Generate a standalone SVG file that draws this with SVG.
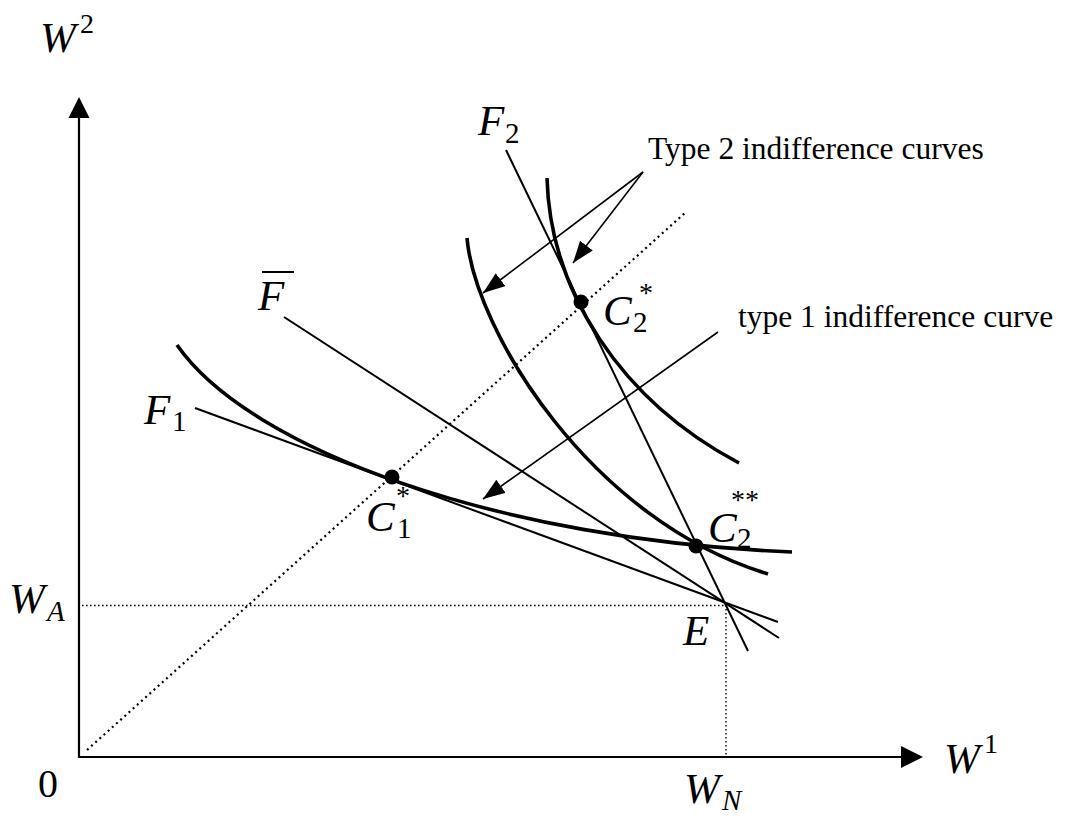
<svg xmlns="http://www.w3.org/2000/svg" width="1073" height="816" viewBox="0 0 1073 816">
<style>
.ax{stroke:#000;stroke-width:2.2;fill:none}
.ln{stroke:#000;stroke-width:2;fill:none}
.cv{stroke:#000;stroke-width:3.6;fill:none;stroke-linecap:butt}
.dot{stroke:#000;fill:none;stroke-width:1.4;stroke-dasharray:1.6 2.4}
.dg{stroke:#000;fill:none;stroke-width:2.2;stroke-dasharray:2 3.6}
.ar{stroke:#000;stroke-width:1.6;fill:none;marker-end:url(#ah)}
.it{font-family:"Liberation Serif","Times New Roman",serif;font-style:italic;font-size:43px;fill:#000}
.sub{font-family:"Liberation Serif","Times New Roman",serif;font-size:29px;fill:#000}
.sup{font-family:"Liberation Serif","Times New Roman",serif;font-size:28px;fill:#000}
.rm{font-family:"Liberation Serif","Times New Roman",serif;font-size:31.5px;fill:#000}
.zero{font-family:"Liberation Serif","Times New Roman",serif;font-size:40px;fill:#000}
</style>
<defs>
<marker id="ah" markerUnits="userSpaceOnUse" markerWidth="24" markerHeight="18" refX="22" refY="8" orient="auto">
<path d="M0,0 L22,8 L0,16 z" fill="#000"/>
</marker>
</defs>
<rect width="1073" height="816" fill="#fff"/>
<g id="axes">
<line class="ax" x1="79" y1="758" x2="79" y2="116"/>
<polygon points="68.5,118 89.5,118 79,97" fill="#000"/>
<line class="ax" x1="79" y1="757" x2="903" y2="757"/>
<polygon points="901,746 901,768 923,757" fill="#000"/>
</g>
<g id="guides">
<line class="dg" x1="87" y1="750" x2="686" y2="212"/>
<line class="dot" x1="82" y1="605.5" x2="725" y2="605.5"/>
<line class="dot" x1="726" y1="605" x2="726" y2="756"/>
</g>
<g id="lines">
<line class="ln" x1="506" y1="150" x2="748" y2="651"/>
<line class="ln" x1="195" y1="408" x2="778" y2="622"/>
<line class="ln" x1="284" y1="317" x2="779" y2="638"/>
</g>
<g id="curves">
<path class="cv" d="M177,345 C250,450 500,540 792,552"/>
<path class="cv" d="M467,238 C475,330 590,520 768,574"/>
<path class="cv" d="M547,178 C550,290 620,400 739,463"/>
</g>
<g id="points">
<circle cx="392" cy="477" r="7.5" fill="#000"/>
<circle cx="581" cy="302" r="7.5" fill="#000"/>
<circle cx="696" cy="546" r="7.5" fill="#000"/>
</g>
<g id="connectors">
<line class="ar" x1="643" y1="172" x2="483" y2="293"/>
<line class="ar" x1="643" y1="172" x2="573" y2="263"/>
<line class="ar" x1="718" y1="332" x2="483" y2="499"/>
</g>
<g id="labels">
<text class="it" x="40" y="52">W</text><text class="sup" x="80" y="33">2</text>
<text class="it" x="9" y="613">W</text><text class="sub" x="47" y="621" font-style="italic">A</text>
<text class="zero" x="38" y="797">0</text>
<text class="it" x="684" y="803">W</text><text class="sub" x="722" y="810" font-style="italic">N</text>
<text class="it" x="944" y="773">W</text><text class="sup" x="984" y="753">1</text>
<text class="it" x="683" y="645">E</text>
<text class="it" x="478" y="135">F</text><text class="sub" x="505" y="143">2</text>
<text class="it" x="258" y="310">F</text><line x1="262" y1="272" x2="294" y2="272" stroke="#000" stroke-width="2"/>
<text class="it" x="144" y="424">F</text><text class="sub" x="172" y="431">1</text>
<text class="it" x="366" y="531">C</text><text class="sub" x="397" y="538">1</text><text class="sup" x="396" y="505">*</text>
<text class="it" x="603" y="325">C</text><text class="sub" x="633" y="332">2</text><text class="sup" x="639" y="302">*</text>
<text class="it" x="708" y="542">C</text><text class="sub" x="737" y="548">2</text><text class="sup" x="731" y="509">**</text>
<text class="rm" x="648" y="159">Type 2 indifference curves</text>
<text class="rm" x="738" y="327">type 1 indifference curve</text>
</g>
</svg>
